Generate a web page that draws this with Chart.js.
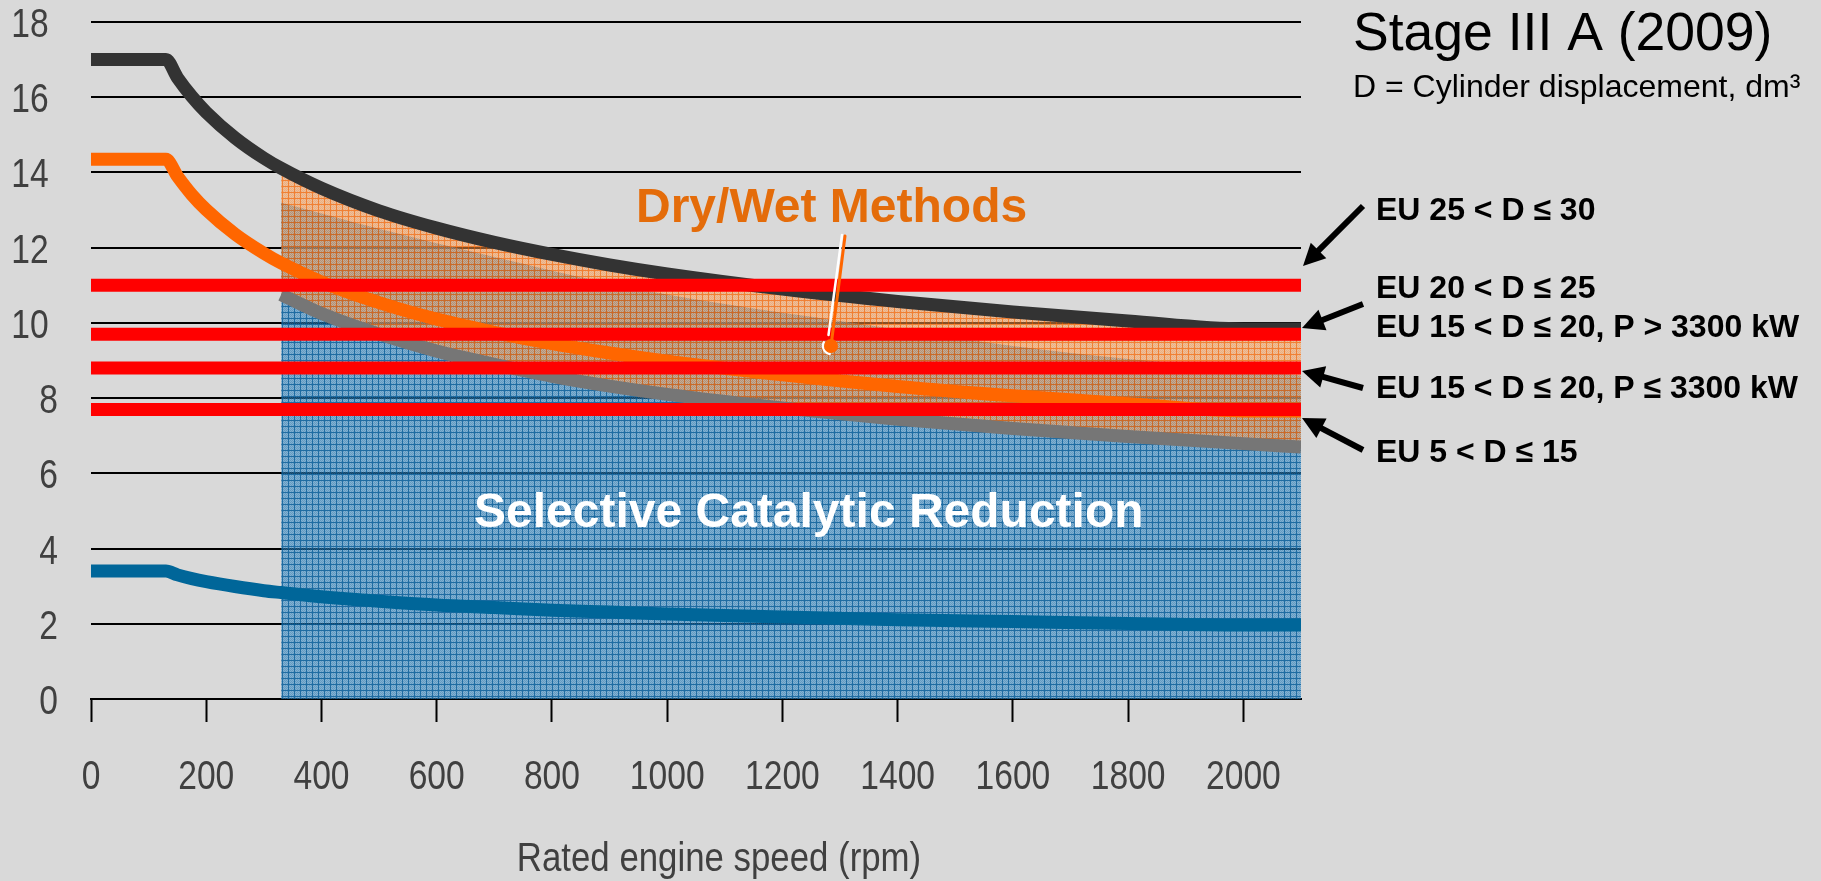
<!DOCTYPE html>
<html>
<head>
<meta charset="utf-8">
<title>Stage III A (2009)</title>
<script src="https://cdn.jsdelivr.net/npm/chart.js@4.4.1/dist/chart.umd.min.js"></script>
<style>
  html, body { margin: 0; padding: 0; background: #d9d9d9; }
  canvas { display: block; }
</style>
</head>
<body>
<canvas id="chart" width="1821" height="881"></canvas>
<script>
// Engine speed samples (rpm) for the three limit curves
const curveRpm    = [0, 130, 150, 175, 200, 250, 300, 330, 400, 500, 600, 700, 800, 900, 1000, 1200, 1400, 1600, 1800, 2000, 2100];
const upperCurve  = [17.0, 17.0, 16.52, 16.02, 15.6, 14.92, 14.38, 14.11, 13.58, 12.98, 12.52, 12.14, 11.82, 11.54, 11.3, 10.9, 10.57, 10.29, 10.05, 9.84, 9.84];
const middleCurve = [14.35, 14.35, 13.9, 13.41, 13.01, 12.36, 11.85, 11.59, 11.09, 10.54, 10.1, 9.75, 9.45, 9.2, 8.98, 8.62, 8.31, 8.06, 7.85, 7.66, 7.66];
const lowerCurve  = [3.4, 3.4, 3.3, 3.2, 3.12, 2.99, 2.88, 2.83, 2.72, 2.6, 2.5, 2.43, 2.36, 2.31, 2.26, 2.18, 2.11, 2.06, 2.01, 1.97, 1.97];

// Lower edge of the dry/wet methods band (grey curve)
const bandRpm = [330, 400, 500, 600, 700, 800, 900, 1000, 1200, 1400, 1600, 1800, 2000, 2100];
const bandLow = [10.75, 10.25, 9.7, 9.25, 8.9, 8.58, 8.32, 8.1, 7.74, 7.44, 7.19, 6.98, 6.79, 6.7];

// Upper edge of the selective catalytic reduction area
const scrRpm = [330, 500, 700, 900, 1100, 1300, 1500, 1700, 1900, 2100];
const scrTop = [13.2, 12.5, 11.75, 11.05, 10.5, 10.05, 9.6, 9.2, 8.9, 8.6];

// EU Stage III A limits (flat lines) and their labels
const euLimits = [11.0, 9.7, 8.8, 7.7];
const euLabels = ['EU 25 < D \u2264 30', 'EU 20 < D \u2264 25', 'EU 15 < D \u2264 20, P > 3300 kW',
                  'EU 15 < D \u2264 20, P \u2264 3300 kW', 'EU 5 < D \u2264 15'];

// Axis ticks
const xTicks = [0, 200, 400, 600, 800, 1000, 1200, 1400, 1600, 1800, 2000];
const yTicks = [0, 2, 4, 6, 8, 10, 12, 14, 16, 18];
const xRange = [0, 2100];
const yRange = [0, 18];

const SANS = "'Liberation Sans', Arial, sans-serif";
const NARROW_SCALE = 0.84;   // horizontal squeeze giving a narrow face for axis text

const pts = (xs, ys) => xs.map((x, i) => ({ x, y: ys[i] }));

// Small cross-hatched tiles for the shaded areas
function hatch(base, alt, line) {
  const t = document.createElement('canvas');
  t.width = 6; t.height = 6;
  const g = t.getContext('2d');
  for (let yy = 0; yy < 6; yy++) {
    for (let xx = 0; xx < 6; xx++) {
      g.fillStyle = (xx === 0 || yy === 0) ? line : ((xx + yy) % 2 ? alt : base);
      g.fillRect(xx, yy, 1, 1);
    }
  }
  return g.createPattern(t, 'repeat');
}
const scrFill = hatch('rgba(22,114,180,0.6)', 'rgba(70,150,205,0.6)', 'rgba(10,95,155,0.9)');
const bandFill = hatch('rgba(255,140,50,0.55)', 'rgba(255,165,100,0.5)', 'rgba(245,105,10,0.8)');

const bandTop = pts(curveRpm, upperCurve).filter(p => p.x >= 330);

const curve = (data, color, order) => ({
  data, borderColor: color, borderWidth: 13, pointRadius: 0, fill: false,
  cubicInterpolationMode: 'monotone', borderCapStyle: 'butt', borderJoinStyle: 'round', order
});

const datasets = [
  { // 0: SCR area
    data: pts(scrRpm, scrTop), borderWidth: 0, pointRadius: 0, fill: 'origin',
    backgroundColor: scrFill, cubicInterpolationMode: 'monotone', order: 10
  },
  { // 1: dry/wet band, filled down to the grey curve
    data: bandTop, borderWidth: 0, pointRadius: 0, fill: 2,
    backgroundColor: bandFill, cubicInterpolationMode: 'monotone', order: 9
  },
  curve(pts(bandRpm, bandLow), '#767676', 8),      // 2
  curve(pts(curveRpm, lowerCurve), '#006699', 7),  // 3
  curve(pts(curveRpm, middleCurve), '#ff6600', 6), // 4
  curve(pts(curveRpm, upperCurve), '#333333', 5),  // 5
  ...euLimits.map(v => ({
    data: [{ x: xRange[0], y: v }, { x: xRange[1], y: v }],
    borderColor: '#ff0000', borderWidth: 13, pointRadius: 0, fill: false,
    borderCapStyle: 'butt', tension: 0, order: 1
  }))
];

function arrow(ctx, x0, y0, x1, y1) {
  const a = Math.atan2(y1 - y0, x1 - x0);
  const head = 22, half = 11;
  const bx = x1 - head * Math.cos(a), by = y1 - head * Math.sin(a);
  ctx.strokeStyle = '#000'; ctx.fillStyle = '#000';
  ctx.lineWidth = 6; ctx.lineCap = 'butt';
  ctx.beginPath(); ctx.moveTo(x0, y0); ctx.lineTo(bx + 2 * Math.cos(a), by + 2 * Math.sin(a)); ctx.stroke();
  ctx.beginPath();
  ctx.moveTo(x1, y1);
  ctx.lineTo(bx + half * Math.sin(a), by - half * Math.cos(a));
  ctx.lineTo(bx - half * Math.sin(a), by + half * Math.cos(a));
  ctx.closePath(); ctx.fill();
}

// Draw text squeezed horizontally around its anchor
function narrowFill(ctx, text, x, y, k) {
  ctx.save();
  ctx.translate(x, y);
  ctx.scale(k, 1);
  ctx.fillText(text, 0, 0);
  ctx.restore();
}

// Axis tick labels use a condensed look: squeeze each label around its anchor
const narrowTicks = {
  id: 'narrowTicks',
  beforeDraw(chart) {
    Object.values(chart.scales).forEach(s => {
      if (s.$narrow) return;
      const draw = s.drawLabels.bind(s);
      s.drawLabels = function (area) {
        const ctx = this.ctx;
        const fill = ctx.fillText;
        ctx.fillText = function (t, x, y) {
          this.save(); this.translate(x, y); this.scale(NARROW_SCALE, 1);
          fill.call(this, t, 0, 0); this.restore();
        };
        try { draw(area); } finally { ctx.fillText = fill; }
      };
      s.$narrow = true;
    });
  }
};

// Titles, region names, limit labels with arrows, and the x axis title
const annotations = {
  id: 'annotations',
  afterDatasetsDraw(chart) {
    const { ctx, chartArea: area } = chart;
    const R = area.right;
    ctx.save();
    ctx.textAlign = 'left';
    ctx.textBaseline = 'alphabetic';

    ctx.fillStyle = '#000';
    ctx.font = `53.5px ${SANS}`;
    ctx.fillText('Stage III A (2009)', 1353, 50);
    ctx.font = `32px ${SANS}`;
    ctx.fillText('D = Cylinder displacement, dm\u00b3', 1353, 97);

    ctx.font = `bold 32px ${SANS}`;
    const labelY = [220, 298, 337, 398, 462];
    euLabels.forEach((t, i) => ctx.fillText(t, R + 75, labelY[i]));

    arrow(ctx, R + 62, 206, R + 2, 266);
    arrow(ctx, R + 62, 304, R + 1, 328);
    arrow(ctx, R + 62, 388, R + 1, 371);
    arrow(ctx, R + 62, 450, R + 1, 418);

    ctx.font = `bold 48px ${SANS}`;
    ctx.fillStyle = '#ffffff';
    ctx.fillText('Selective Catalytic Reduction', 474, 527);

    ctx.font = `bold 48px ${SANS}`;
    ctx.fillStyle = '#e46c0a';
    ctx.fillText('Dry/Wet Methods', 636, 222);

    // pointer from the band name into the band
    ctx.lineCap = 'round';
    ctx.strokeStyle = '#ffffff'; ctx.lineWidth = 2.5;
    ctx.beginPath(); ctx.moveTo(842, 235); ctx.lineTo(828.5, 335); ctx.stroke();
    ctx.beginPath(); ctx.arc(831, 346, 8, Math.PI * 0.55, Math.PI * 1.15); ctx.stroke();
    ctx.strokeStyle = '#ff6600'; ctx.lineWidth = 3;
    ctx.beginPath(); ctx.moveTo(845, 236); ctx.lineTo(831.5, 342); ctx.stroke();
    ctx.fillStyle = '#ff6600';
    ctx.beginPath(); ctx.arc(831, 346, 7, 0, Math.PI * 2); ctx.fill();

    ctx.font = `40px ${SANS}`;
    ctx.fillStyle = '#404040';
    ctx.textAlign = 'center';
    narrowFill(ctx, 'Rated engine speed (rpm)', 719, 871, 0.87);
    ctx.restore();
  }
};

const tickFont = { family: SANS, size: 40, lineHeight: 1.0 };

new Chart(document.getElementById('chart'), {
  type: 'line',
  data: { datasets },
  plugins: [narrowTicks, annotations],
  options: {
    responsive: false,
    devicePixelRatio: 1,
    animation: false,
    layout: { padding: { left: 0, right: 520, top: 22, bottom: 0 } },
    plugins: { legend: { display: false }, tooltip: { enabled: false } },
    scales: {
      x: {
        type: 'linear', min: xRange[0], max: xRange[1],
        afterBuildTicks: s => { s.ticks = xTicks.map(v => ({ value: v })); },
        afterFit: s => { s.height = 182; },
        ticks: { font: tickFont, color: '#404040', padding: 36, maxRotation: 0, autoSkip: false,
                 callback: v => String(v) },
        grid: { display: true, drawOnChartArea: false, drawTicks: true, tickLength: 23, tickWidth: 2, tickColor: '#000' },
        border: { display: true, color: '#000', width: 2 }
      },
      y: {
        type: 'linear', min: yRange[0], max: yRange[1],
        afterBuildTicks: s => { s.ticks = yTicks.map(v => ({ value: v })); },
        afterFit: s => { s.width = 91; },
        ticks: {
          font: tickFont, color: '#404040', padding: 0, labelOffset: 4,
          callback: v => (v >= 10 ? v + ' ' : String(v))
        },
        grid: { color: '#000', lineWidth: 2, drawTicks: true, tickLength: 33, tickColor: 'rgba(0,0,0,0)' },
        border: { display: false }
      }
    }
  }
});
</script>
</body>
</html>
